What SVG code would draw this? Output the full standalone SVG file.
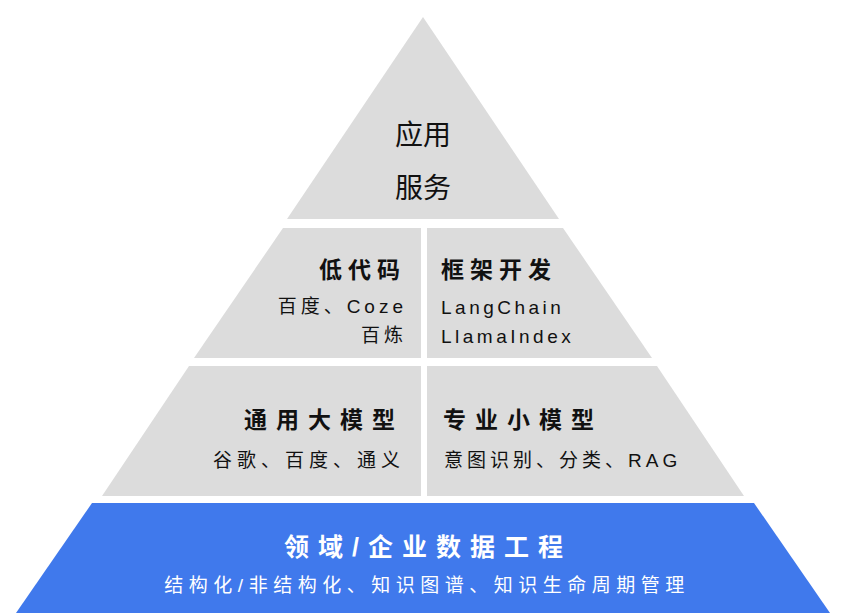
<svg xmlns="http://www.w3.org/2000/svg" width="845" height="613" viewBox="0 0 845 613">
<style>
.g{fill:#dcdcdc}
.b{fill:#4079ec}
text{font-family:"Liberation Sans","Noto Sans CJK SC",sans-serif;fill:#111}
.h{font-size:23px;font-weight:bold;letter-spacing:7px}
.s{font-size:19px;letter-spacing:5px}
.t{font-size:28px}
.w{fill:#fff}
</style>
<rect width="845" height="613" fill="#fff"/>
<g id="top">
<polygon class="g" points="423,17 559,219 287,219"/>
<text class="t" x="423" y="145" text-anchor="middle">应用</text>
<text class="t" x="423" y="198" text-anchor="middle">服务</text>
</g>
<g id="lowcode">
<polygon class="g" points="283,228 421,228 421,358 194,358"/>
<text class="h" x="406" y="278" text-anchor="end" style="letter-spacing:6px">低代码</text>
<text class="s" x="407" y="313" text-anchor="end" style="letter-spacing:4px">百度、Coze</text>
<text class="s" x="407" y="342" text-anchor="end" style="letter-spacing:4px">百炼</text>
</g>
<g id="framework">
<polygon class="g" points="427,228 563,228 652,358 427,358"/>
<text class="h" x="441" y="278" style="letter-spacing:6px">框架开发</text>
<text class="s" x="441" y="314" style="letter-spacing:3.5px">LangChain</text>
<text class="s" x="441" y="343" style="letter-spacing:3.5px">LlamaIndex</text>
</g>
<g id="general">
<polygon class="g" points="189,366 421,366 421,496 102,496"/>
<text class="h" x="404" y="428" text-anchor="end" style="letter-spacing:9px">通用大模型</text>
<text class="s" x="405" y="467" text-anchor="end" style="letter-spacing:5px">谷歌、百度、通义</text>
</g>
<g id="special">
<polygon class="g" points="427,366 657,366 744,496 427,496"/>
<text class="h" x="443" y="428" style="letter-spacing:9px">专业小模型</text>
<text class="s" x="444" y="467" style="letter-spacing:4px">意图识别、分类、RAG</text>
</g>
<g id="data">
<polygon class="b" points="92,503 754,503 830,613 16,613"/>
<text class="h w" x="428" y="556" text-anchor="middle" style="font-size:25px;letter-spacing:9px">领域/企业数据工程</text>
<text class="s w" x="427" y="592" text-anchor="middle" style="letter-spacing:5.5px">结构化/非结构化、知识图谱、知识生命周期管理</text>
</g>
<g id="connectors"/>
</svg>
